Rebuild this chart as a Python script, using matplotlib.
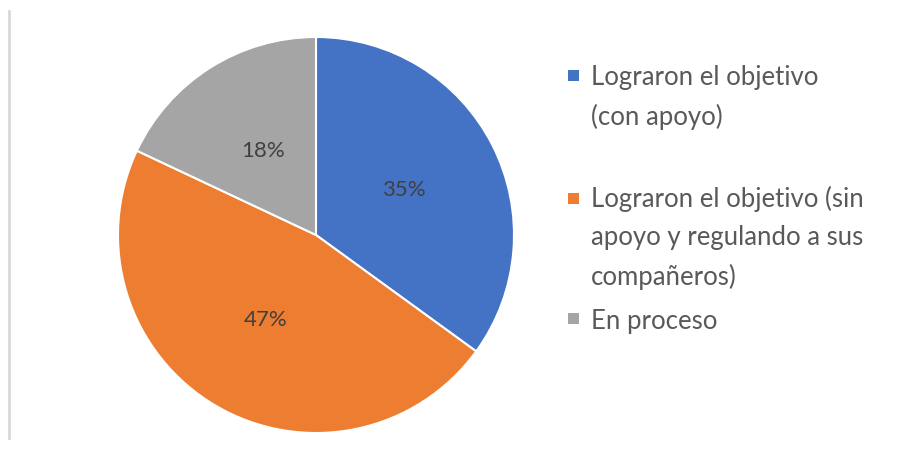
import matplotlib.pyplot as plt
from matplotlib.patches import Rectangle
from matplotlib.lines import Line2D

plt.rcParams["font.family"] = ["Lato", "DejaVu Sans"]

# datos
etiquetas = [
    "Lograron el objetivo\n(con apoyo)",
    "Lograron el objetivo (sin\napoyo y regulando a sus\ncompañeros)",
    "En proceso",
]
valores = [35, 47, 18]
colores = ["#4472C4", "#ED7D31", "#A5A5A5"]

W, H = 918, 450
fig = plt.figure(figsize=(W / 100, H / 100), dpi=100)

# pastel: centro (316, 235) px, radio 198 px
cx, cy, r = 316, 235, 198
ax = fig.add_axes([(cx - r) / W, (H - cy - r) / H, 2 * r / W, 2 * r / H])
ax.pie(
    valores,
    colors=colores,
    startangle=90,
    counterclock=False,
    autopct="%1.0f%%",
    pctdistance=0.5,
    wedgeprops=dict(edgecolor="white", linewidth=1.5),
    textprops=dict(color="#404040", fontsize=16),
)
ax.set_xlim(-1, 1)
ax.set_ylim(-1, 1)
ax.set_aspect("equal")

# leyenda manual (espaciado como en el original)
y_items = [65, 186, 309]  # parte superior de cada entrada, en px
cuadros = [70, 193, 313]
for label, color, y, yc in zip(etiquetas, colores, y_items, cuadros):
    fig.patches.append(
        Rectangle((568 / W, 1 - (yc + 11) / H), 11 / W, 11 / H,
                  transform=fig.transFigure, facecolor=color, edgecolor="none")
    )
    fig.text(591 / W, 1 - y / H, label, ha="left", va="top",
             fontsize=18.5, color="#595959", linespacing=1.66)

# borde izquierdo gris
fig.add_artist(Line2D([8.5 / W, 8.5 / W], [1 - 11 / H, 1 - 438 / H],
                      transform=fig.transFigure, color="#D9D9D9", linewidth=2))

fig.savefig("out.png", dpi=100)
